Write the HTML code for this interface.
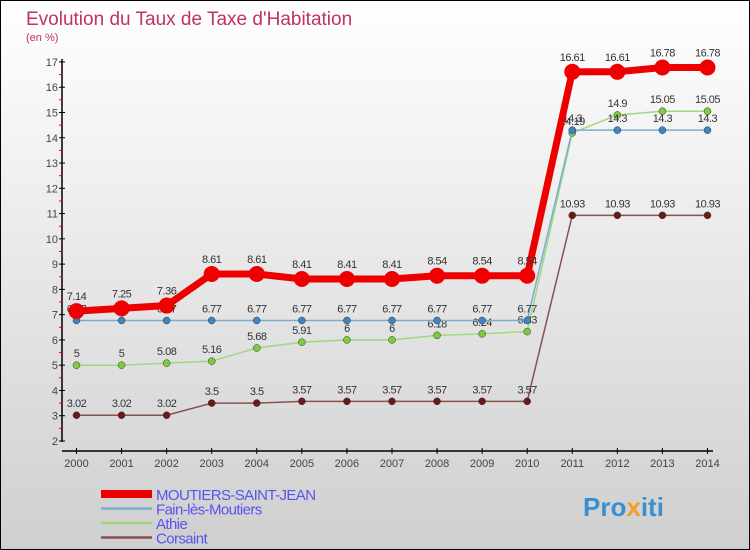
<!DOCTYPE html>
<html><head><meta charset="utf-8"><style>
body{margin:0;}
#c{position:relative;width:748px;height:548px;border:1px solid #000;background:linear-gradient(#ffffff,#cfcfcf);font-family:"Liberation Sans",sans-serif;overflow:hidden}
svg{position:absolute;left:0;top:0}
</style></head><body>
<div id="c">
<svg id="s" width="748" height="548">
<text x="25" y="24" font-size="19" fill="#c0335f">Evolution du Taux de Taxe d'Habitation</text>
<text x="25" y="40" font-size="11" fill="#c0335f">(en %)</text>
<g id="axes"></g><g id="series"></g><g id="legend"></g>
<text x="582" y="515" font-size="26" font-weight="bold" fill="#3a8fd0">Pro<tspan fill="#f0a020">x</tspan>iti</text>
</svg></div>
<script>
const years=[2000,2001,2002,2003,2004,2005,2006,2007,2008,2009,2010,2011,2012,2013,2014];
const moutiers=[7.14,7.25,7.36,8.61,8.61,8.41,8.41,8.41,8.54,8.54,8.54,16.61,16.61,16.78,16.78];
const fain=[6.77,6.77,6.77,6.77,6.77,6.77,6.77,6.77,6.77,6.77,6.77,14.3,14.3,14.3,14.3];
const athie=[5,5,5.08,5.16,5.68,5.91,6,6,6.18,6.24,6.33,14.19,14.9,15.05,15.05];
const corsaint=[3.02,3.02,3.02,3.5,3.5,3.57,3.57,3.57,3.57,3.57,3.57,10.93,10.93,10.93,10.93];
const yTicks=[2,3,4,5,6,7,8,9,10,11,12,13,14,15,16,17];
const names=["MOUTIERS-SAINT-JEAN","Fain-lès-Moutiers","Athie","Corsaint"];
const NS="http://www.w3.org/2000/svg";
const X=i=>75.5+i*45.07, Y=v=>440-(v-2)*25.27;
function mk(t,a,p){const e=document.createElementNS(NS,t);for(const k in a)e.setAttribute(k,a[k]);p.appendChild(e);return e;}
const ax=document.getElementById('axes');
let e=mk('line',{x1:61,y1:58,x2:61,y2:441,stroke:'#000','stroke-width':1.5},ax);


e=mk('line',{x1:61,y1:450,x2:712,y2:450,stroke:'#000','stroke-width':1.5},ax);


yTicks.forEach(v=>{mk('line',{x1:58,x2:64,y1:Y(v),y2:Y(v),stroke:'#000'},ax);
 if(v<17)mk('line',{x1:58,x2:61,y1:Y(v+0.5),y2:Y(v+0.5),stroke:'#f00'},ax);
 const t=mk('text',{x:57,y:Y(v)+4,'font-size':11,'text-anchor':'end',fill:'#444'},ax);t.textContent=v;
 
 });
years.forEach((y,i)=>{mk('line',{x1:X(i),x2:X(i),y1:447,y2:453,stroke:'#000'},ax);
 const t=mk('text',{x:X(i),y:466,'font-size':11,'text-anchor':'middle',fill:'#444'},ax);t.textContent=y;
 
 });
const sg=document.getElementById('series');
const defs=[[corsaint,'#6b1a1a','#8a5050',1.5,3.5,'corsaint'],[athie,'#7ccc3c','#a0d880',1.5,3.5,'athie'],[fain,'#3d85c6','#7aaed0',1.5,3.5,'fain-les-moutiers'],[moutiers,'#ee0000','#ee0000',7,8,'moutiers-saint-jean']];
defs.forEach(([d,dot,line,w,r,n])=>{
 const g=mk('g',{},sg);
 
 
 mk('polyline',{points:d.map((v,i)=>X(i)+','+Y(v)).join(' '),fill:'none',stroke:line,'stroke-width':w},g);
 d.forEach((v,i)=>{const c=mk('circle',{cx:X(i),cy:Y(v),r:r,fill:dot,stroke:n=='moutiers-saint-jean'?'none':'#333','stroke-width':0.5},g);
  
  
  const t=mk('text',{x:X(i),y:Y(v)-(n=='moutiers-saint-jean'?11:8),'font-size':11,'text-anchor':'middle',fill:'#333','letter-spacing':'-0.5'},g);t.textContent=v;
  
  });
});
const lg=document.getElementById('legend');
const lc=['#ee0000','#7aaed0','#a0d880','#8a5050'],lw=[8,2.5,2.5,2.5];
names.forEach((n,i)=>{const y=493+i*14.5;
 const g=mk('g',{},lg);
 
 
 mk('line',{x1:100,x2:151,y1:y,y2:y,stroke:lc[i],'stroke-width':lw[i]},g);
 const t=mk('text',{x:155,y:y+6,'font-size':15,fill:'#5555ee','letter-spacing':'-0.6'},g);t.textContent=n;});
</script></body></html>
